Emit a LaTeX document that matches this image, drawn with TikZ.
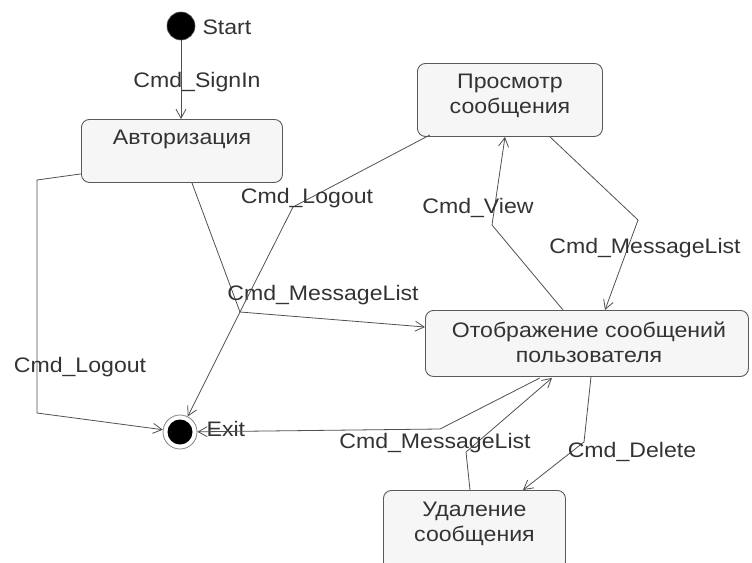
\documentclass[tikz,border=0pt]{standalone}
\usepackage{fontspec}
\setmainfont{Liberation Sans}[FakeStretch=1.1]
\usetikzlibrary{arrows.meta,calc}
\definecolor{wire}{HTML}{505050}
\definecolor{boxline}{HTML}{5A5A5A}
\definecolor{boxfill}{HTML}{F6F6F6}
\definecolor{ink}{HTML}{333333}
\begin{document}
\fontsize{21}{25}\selectfont
\begin{tikzpicture}[x=1pt,y=-1pt,
  box/.style={draw=boxline, fill=boxfill, rounded corners=8pt, line width=0.9pt, inner sep=0pt, anchor=north west},
  caption/.style={anchor=north, align=center, inner sep=0pt, text=ink},
  lbl/.style={text=ink, inner sep=0pt},
  seg/.style={draw=wire, line width=0.8pt},
  tr/.style={seg, -{Straight Barb[length=9pt,width=10pt]}},
]
\useasboundingbox (0,0) rectangle (752,562);

% states
\node[box, minimum width=201pt, minimum height=63pt] (auth) at (81,119) {};
\node[caption] (authT) at ($(auth.north)+(0,11)$) {Авторизация};

\node[box, minimum width=185pt, minimum height=73pt] (view) at (417,63) {};
\node[caption] (viewT) at ($(view.north)+(0,11)$) {Просмотр\\сообщения};

\node[box, minimum width=323pt, minimum height=66pt] (disp) at (425,310) {};
\node[caption] (dispT) at ($(disp.north)+(2,12)$) {Отображение сообщений\\пользователя};

\node[box, minimum width=182pt, minimum height=80pt] (del) at (383,490) {};
\node[caption] (delT) at ($(del.north)+(0,12)$) {Удаление\\сообщения};

% pseudo states
\node[circle, fill=black, draw=wire, line width=0.6pt, minimum size=28pt, inner sep=0pt] (start) at (181,26) {};
\node[lbl, anchor=west] (startT) at ($(start.east)+(7,1)$) {Start};

\node[circle, draw=wire!70, line width=0.8pt, minimum size=34pt, inner sep=0pt] (exit) at (180,432) {};
\node[circle, fill=black, minimum size=25pt, inner sep=0pt] (exitIn) at (exit.center) {};
\node[lbl, anchor=west] (exitT) at ($(exit.east)+(9,-3)$) {Exit};

% bend points
\coordinate (J) at (240,312);
\coordinate (lo) at (293,207);

% transitions
\draw[tr] (start) -- (start |- auth.north);
\node[lbl] (t1) at (197,82) {Cmd\_SignIn};

\draw[tr] ($(auth.south west)+(0,-9)$) -- (37,180) -- (37,413) -- (exit);
\node[lbl] (t2) at (80,367) {Cmd\_Logout};

\draw[tr] ($(auth.south)+(10,0)$) -- (J) -- ($(disp.north west)+(0,17)$);
\node[lbl] (t3) at (323,295) {Cmd\_MessageList};

\draw[tr] ($(view.south west)+(13,-2)$) -- (lo) -- (J) -- (exit);
\node[lbl] (t4) at (307,198) {Cmd\_Logout};

\draw[tr] ($(disp.north west)+(138,0)$) -- (492,225) -- ($(view.south west)+(88,0)$);
\node[lbl] (t5) at (478,208) {Cmd\_View};

\draw[tr] ($(view.south west)+(133,0)$) -- (638,220) -- ($(disp.north west)+(180,0)$);
\node[lbl] (t6) at (645,248) {Cmd\_MessageList};

\draw[tr] ($(disp.south west)+(115,1)$) -- (440,429) -- (exit);

\draw[tr] ($(del.north west)+(87,0)$) -- (466,452) -- ($(disp.south west)+(127,1)$);
\node[lbl] (t7) at (435,443) {Cmd\_MessageList};

\draw[tr] ($(disp.south west)+(166,0)$) -- (584,442) -- ($(del.north west)+(140,0)$);
\node[lbl] (t8) at (632,452) {Cmd\_Delete};
\end{tikzpicture}
\end{document}
